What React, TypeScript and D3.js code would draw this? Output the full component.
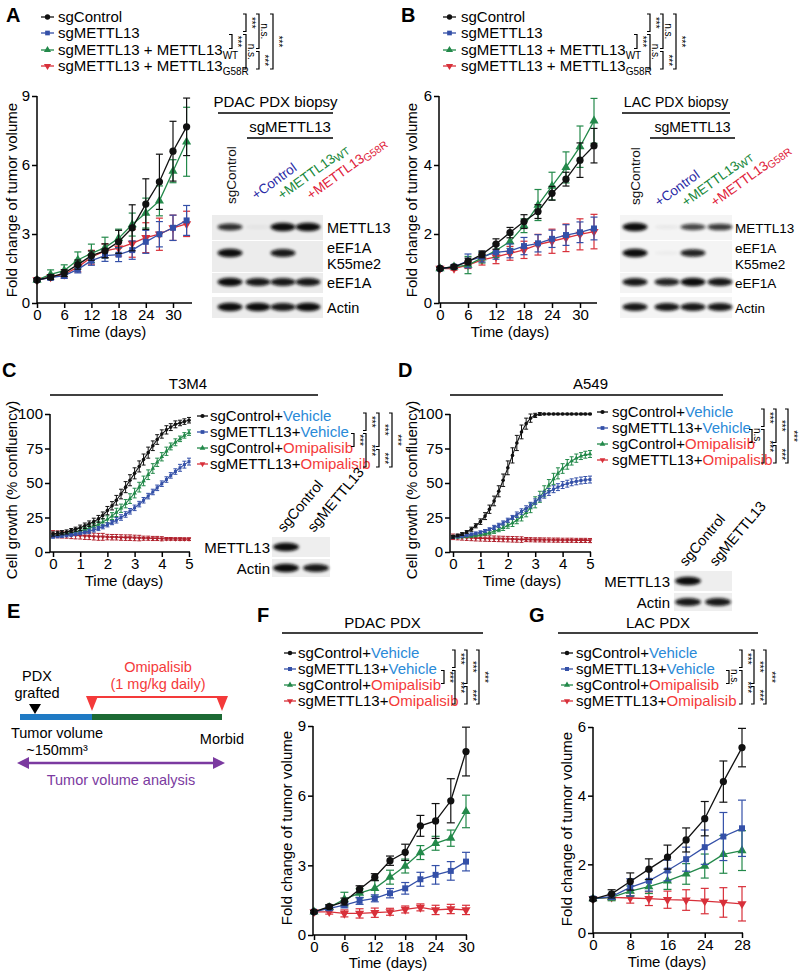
import React, { useEffect, useRef } from 'react';
import * as d3 from 'd3';

const FONT = '"Liberation Sans", Arial, Helvetica, sans-serif';
const C_CTRL = '#111111';
const C_KO = '#3450a8';
const C_WT = '#23894a';
const C_MUT = '#d8303a';
const C_VEH = '#2a8ad8';
const C_OMI = '#f43a3a';

// ---- A / B : rescue experiment in PDX ----
const daysAB = [0, 3, 6, 9, 12, 15, 18, 21, 24, 27, 30, 33];
const aCtrl = [1.0, 1.13, 1.3, 1.67, 2.06, 2.27, 2.66, 3.27, 4.3, 5.27, 6.6, 7.66];
const aCtrlErr = [0.05, 0.1, 0.15, 0.2, 0.2, 0.3, 0.5, 1.0, 1.1, 1.2, 1.3, 1.25];
const aKO = [1.0, 1.1, 1.19, 1.46, 1.84, 2.06, 2.1, 2.3, 2.66, 2.99, 3.27, 3.59];
const aKOErr = [0.05, 0.1, 0.12, 0.15, 0.2, 0.25, 0.3, 0.4, 0.5, 0.55, 0.55, 0.65];
const aWT = [1.0, 1.24, 1.41, 1.87, 2.16, 2.41, 2.81, 3.41, 3.91, 4.44, 5.73, 7.01];
const aWTErr = [0.05, 0.2, 0.25, 0.35, 0.4, 0.45, 0.4, 0.5, 0.65, 0.65, 0.5, 1.5];
const aMut = [1.0, 1.13, 1.24, 1.56, 1.99, 2.27, 2.39, 2.59, 2.84, 2.99, 3.27, 3.44];
const aMutErr = [0.05, 0.1, 0.15, 0.2, 0.3, 0.3, 0.35, 0.6, 0.65, 0.7, 0.55, 0.55];

const bCtrl = [1.0, 1.05, 1.2, 1.41, 1.71, 2.04, 2.36, 2.65, 3.18, 3.59, 4.14, 4.56];
const bCtrlErr = [0.03, 0.05, 0.1, 0.1, 0.15, 0.15, 0.2, 0.2, 0.2, 0.2, 0.5, 0.5];
const bKO = [1.0, 1.05, 1.22, 1.34, 1.47, 1.51, 1.65, 1.73, 1.86, 1.97, 2.05, 2.16];
const bKOErr = [0.03, 0.05, 0.2, 0.15, 0.2, 0.2, 0.25, 0.25, 0.25, 0.3, 0.3, 0.33];
const bWT = [1.0, 1.05, 1.1, 1.31, 1.52, 1.78, 2.24, 2.84, 3.39, 3.93, 4.53, 5.28];
const bWTErr = [0.03, 0.05, 0.25, 0.15, 0.2, 0.2, 0.2, 0.45, 0.4, 0.45, 0.6, 0.65];
const bMut = [1.0, 1.0, 1.1, 1.25, 1.34, 1.44, 1.54, 1.69, 1.79, 1.89, 1.99, 2.07];
const bMutErr = [0.03, 0.05, 0.1, 0.15, 0.2, 0.2, 0.25, 0.3, 0.35, 0.4, 0.45, 0.5];

// ---- C / D : cell growth (4 h readings) ----
const daysCD = [0, 0.17, 0.33, 0.5, 0.67, 0.83, 1, 1.17, 1.33, 1.5, 1.67, 1.83, 2, 2.17, 2.33, 2.5, 2.67, 2.83, 3, 3.17, 3.33, 3.5, 3.67, 3.83, 4, 4.17, 4.33, 4.5, 4.67, 4.83, 5];
const cCtrl = [13, 13.5, 14, 14.5, 15.5, 16.5, 17.5, 19, 20.5, 22, 24, 26.5, 30, 33.5, 37.5, 42, 47, 52, 57, 62, 67, 72, 77, 81.5, 85.5, 88.5, 90.5, 92.5, 93.5, 94.5, 95.5];
const cCtrlErr = [1.5, 1.5, 1.5, 1.5, 1.5, 1.5, 2, 2, 2, 2.5, 2.5, 2.5, 3, 3, 3.5, 3.5, 4, 4, 4, 4, 4, 4, 3.5, 3.5, 3, 3, 2.5, 2.5, 2, 2, 2];
const cKO = [11, 11.3, 11.6, 12, 12.4, 12.9, 13.5, 14.2, 15, 16, 17, 18.3, 19.7, 21.3, 23, 25, 27.2, 29.5, 32, 34.7, 37.5, 40.5, 43.5, 46.5, 49.5, 52.5, 55.5, 58.3, 61, 63.3, 65.5];
const cKOErr = [1, 1, 1, 1, 1, 1, 1, 1, 1.5, 1.5, 1.5, 1.5, 1.5, 1.5, 2, 2, 2, 2, 2, 2, 2, 2, 2, 2, 2, 2, 2, 2, 2.5, 2.5, 2.5];
const cWT = [12, 12.3, 12.7, 13.2, 13.8, 14.5, 15.3, 16.2, 17.3, 18.6, 20, 21.7, 23.7, 26, 28.7, 31.7, 35, 38.7, 42.7, 47, 51.5, 56, 60.5, 65, 69, 73, 76.5, 79.5, 82, 84.5, 86.5];
const cWTErr = [1, 1, 1, 1, 1.5, 1.5, 1.5, 1.5, 2, 2, 2, 2.5, 2.5, 2.5, 3, 3, 3, 3.5, 3.5, 3.5, 3.5, 3.5, 3.5, 3, 3, 3, 2.5, 2.5, 2, 2, 2];
const cOmi = [13, 12.8, 12.6, 12.5, 12.2, 12, 11.9, 11.6, 11.5, 11.2, 11, 11, 10.8, 10.7, 10.7, 10.5, 10.4, 10.4, 10.2, 10.1, 10, 10, 9.8, 9.8, 9.6, 9.5, 9.5, 9.4, 9.4, 9.3, 9.3];
const cOmiErr = [2.5, 2.5, 2.5, 2.5, 2.5, 2.5, 2.5, 2.5, 2.5, 2.5, 2.5, 2.5, 2, 2, 2, 2, 2, 2, 2, 2, 1.5, 1.5, 1.5, 1.5, 1.5, 1, 1, 1, 1, 1, 1];

const dCtrl = [11, 12, 13, 14.5, 16.5, 19, 22, 26, 31, 37, 44, 52, 61, 70, 79, 87, 93, 97, 99, 100, 100, 100, 100, 100, 100, 100, 100, 100, 100, 100, 100];
const dCtrlErr = [1, 1, 1, 1, 1.5, 1.5, 2, 2.5, 3, 3.5, 4, 4.5, 5, 5.5, 5.5, 5, 4, 3, 1.5, 1, 0.5, 0.5, 0.5, 0.5, 0.5, 0.5, 0.5, 0.5, 0.5, 0.5, 0.5];
const dKO = [11, 11.3, 11.7, 12.2, 12.8, 13.5, 14.3, 15.3, 16.5, 17.8, 19.3, 21, 23, 25, 27, 29.3, 31.5, 34, 36.5, 39, 41.5, 43.5, 45.5, 47, 48.5, 49.5, 50.5, 51.2, 51.8, 52.2, 52.5];
const dKOErr = [1, 1, 1, 1, 1, 1, 1, 1, 1, 1.5, 1.5, 1.5, 1.5, 1.5, 2, 2, 2, 2, 2, 2, 2.5, 2.5, 2.5, 2.5, 2.5, 2.5, 2.5, 2.5, 2.5, 2.5, 2.5];
const dWT = [11, 11, 11.2, 11.4, 11.7, 12, 12.5, 13.2, 14, 15, 16.2, 17.6, 19.2, 21, 23, 25.5, 28.5, 32, 36, 40, 44, 48.5, 53, 57, 60.5, 63.5, 66, 68, 69.5, 70.5, 71];
const dWTErr = [1, 1, 1, 1, 1, 1, 1, 1, 1.5, 1.5, 1.5, 2, 2, 2.5, 2.5, 3, 3, 3.5, 4, 4, 4, 4, 4, 4, 3.5, 3.5, 3, 3, 2.5, 2.5, 2.5];
const dOmi = [11, 10.8, 10.6, 10.4, 10.2, 10, 9.9, 9.8, 9.7, 9.6, 9.5, 9.4, 9.3, 9.2, 9.1, 9, 9, 8.9, 8.8, 8.8, 8.7, 8.7, 8.6, 8.6, 8.5, 8.5, 8.5, 8.4, 8.4, 8.4, 8.3];
const dOmiErr = [2, 2, 2, 2, 2, 2, 2, 2, 2, 2, 2, 2, 2, 2, 2, 2, 1.5, 1.5, 1.5, 1.5, 1.5, 1.5, 1.5, 1.5, 1.5, 1.5, 1.5, 1.5, 1.5, 1.5, 1.5];

// ---- F / G : omipalisib in PDX ----
const daysF = [0, 3, 6, 9, 12, 15, 18, 21, 24, 27, 30];
const fCtrl = [1.0, 1.22, 1.44, 1.97, 2.49, 3.2, 3.56, 4.7, 4.91, 5.78, 7.9];
const fCtrlErr = [0.05, 0.08, 0.15, 0.15, 0.15, 0.2, 0.35, 0.45, 0.75, 0.95, 1.05];
const fKO = [1.0, 1.15, 1.29, 1.47, 1.58, 1.8, 2.01, 2.4, 2.59, 2.76, 3.16];
const fKOErr = [0.05, 0.08, 0.12, 0.15, 0.15, 0.2, 0.25, 0.3, 0.4, 0.4, 0.4];
const fWT = [1.0, 1.19, 1.54, 1.8, 2.01, 2.49, 2.97, 3.55, 3.95, 4.17, 5.32];
const fWTErr = [0.05, 0.1, 0.3, 0.2, 0.35, 0.3, 0.3, 0.3, 0.3, 0.35, 0.7];
const fOmi = [1.0, 1.0, 0.93, 0.93, 0.96, 1.0, 1.1, 1.19, 1.08, 1.12, 1.08];
const fOmiErr = [0.05, 0.1, 0.15, 0.2, 0.2, 0.15, 0.15, 0.15, 0.2, 0.2, 0.2];

const daysG = ['0', '4', '8', '12', '16', '20', '24', '26', '28'];
const gTicks = ['0', '8', '16', '24', '28'];
const gCtrl = [0.99, 1.14, 1.5, 1.86, 2.21, 2.71, 3.33, 4.41, 5.4];
const gCtrlErr = [0.05, 0.12, 0.25, 0.3, 0.35, 0.35, 0.5, 0.6, 0.56];
const gKO = [1.0, 1.06, 1.33, 1.52, 1.82, 2.15, 2.5, 2.81, 3.05];
const gKOErr = [0.05, 0.08, 0.25, 0.3, 0.3, 0.35, 0.5, 0.7, 0.82];
const gWT = [1.0, 1.04, 1.22, 1.35, 1.52, 1.72, 1.95, 2.29, 2.4];
const gWTErr = [0.05, 0.1, 0.15, 0.2, 0.25, 0.3, 0.35, 0.55, 0.58];
const gOmi = [1.0, 1.04, 1.02, 1.0, 0.97, 0.96, 0.93, 0.89, 0.85];
const gOmiErr = [0.05, 0.08, 0.15, 0.2, 0.25, 0.3, 0.37, 0.43, 0.5];

// legends, brackets, blots
const legendAB = [
  [{ t: 'sgControl' }],
  [{ t: 'sgMETTL13' }],
  [{ t: 'sgMETTL13 + METTL13' }, { t: 'WT', sub: true }],
  [{ t: 'sgMETTL13 + METTL13' }, { t: 'G58R', sub: true }],
];
const legendDrug = [
  [{ t: 'sgControl+' }, { t: 'Vehicle', c: C_VEH }],
  [{ t: 'sgMETTL13+' }, { t: 'Vehicle', c: C_VEH }],
  [{ t: 'sgControl+' }, { t: 'Omipalisib', c: C_OMI }],
  [{ t: 'sgMETTL13+' }, { t: 'Omipalisib', c: C_OMI }],
];
const styles = [
  { color: C_CTRL, shape: 'circle' },
  { color: C_KO, shape: 'square' },
  { color: C_WT, shape: 'up' },
  { color: C_MUT, shape: 'down' },
];
const bracketsAB = [[0, 1, 2, '***'], [1, 0, 1, '***'], [1, 1, 3, 'n.s.'], [2, 0, 2, 'n.s.'], [2, 2, 3, '***'], [3, 0, 3, '***']];
const bracketsAll = [[0, 1, 2, '***'], [1, 0, 1, '***'], [1, 1, 3, '***'], [2, 0, 2, '***'], [2, 2, 3, '***'], [3, 0, 3, '***']];
const bracketsNs = [[0, 1, 2, 'n.s.'], [1, 0, 1, '***'], [1, 1, 3, '***'], [2, 0, 2, '***'], [2, 2, 3, '***'], [3, 0, 3, '***']];

const blotA = [[0.85, 0.04, 1, 1], [1, 0, 0.95, 0], [1, 0.95, 0.95, 0.95], [1, 1, 0.95, 1]];
const blotB = [[1, 0.05, 0.75, 0.8], [1, 0.03, 0.9, 0], [0.95, 0.9, 1, 0.95], [0.95, 0.95, 0.95, 0.95]];
const blotC = [[1, 0], [1, 0.95]];
const blotD = [[1, 0], [0.95, 0.95]];
const laneLabelsAB = [
  { parts: [{ t: 'sgControl' }], c: '#111' },
  { parts: [{ t: '+Control' }], c: '#2b2ba6' },
  { parts: [{ t: '+METTL13' }, { t: 'WT', sub: true }], c: '#17883a' },
  { parts: [{ t: '+METTL13' }, { t: 'G58R', sub: true }], c: '#e0223a' },
];

const SYM: any = { circle: d3.symbolCircle, square: d3.symbolSquare, up: d3.symbolTriangle, down: d3.symbolTriangle };

function txt(g: any, x: number, y: number, s: string, size = 15, anchor = 'start', color = '#000') {
  return g.append('text').attr('x', x).attr('y', y).attr('font-size', size).attr('text-anchor', anchor)
    .attr('fill', color).attr('font-family', FONT).text(s);
}

function parts(t: any, ps: any[], subSize: number, subDy: number) {
  ps.forEach((p) => {
    const s = t.append('tspan').text(p.t);
    if (p.c) s.attr('fill', p.c);
    if (p.sub) s.attr('font-size', subSize).attr('dy', subDy);
  });
}

function drawChart(svg: any, o: any) {
  const g = svg.append('g');
  const x = o.x, y = o.y;
  [...o.series].reverse().forEach((s: any) => {
    const pts = o.days.map((d: any, i: number) => ({ px: x(d), v: s.vals[i], e: s.errs[i] }));
    const eb = g.append('g').attr('stroke', s.color).attr('stroke-width', o.ebw);
    pts.forEach((p: any) => {
      eb.append('line').attr('x1', p.px).attr('x2', p.px).attr('y1', y(p.v + p.e)).attr('y2', y(p.v - p.e));
      [p.v + p.e, p.v - p.e].forEach((v) =>
        eb.append('line').attr('x1', p.px - o.cap).attr('x2', p.px + o.cap).attr('y1', y(v)).attr('y2', y(v)));
    });
    g.append('path').datum(pts)
      .attr('d', d3.line<any>().x((p) => p.px).y((p) => y(p.v)))
      .attr('fill', 'none').attr('stroke', s.color).attr('stroke-width', o.lw);
    g.append('g').selectAll('path').data(pts).join('path')
      .attr('d', d3.symbol(SYM[s.shape], s.shape === 'circle' ? o.ms * 1.15 : o.ms)())
      .attr('transform', (p: any) => `translate(${p.px},${y(p.v)})${s.shape === 'down' ? ' rotate(180)' : ''}`)
      .attr('fill', s.color);
  });

  const y0 = y(o.yDomain[0]);
  const ya = g.append('g').attr('transform', `translate(${o.axisX},0)`)
    .call(d3.axisLeft(y).tickValues(o.yTicks).tickFormat((d: any) => String(d)).tickSize(5).tickPadding(2));
  const xa = g.append('g').attr('transform', `translate(0,${y0})`)
    .call(d3.axisBottom(x).tickValues(o.xTicks).tickFormat((d: any) => String(d)).tickSize(5).tickPadding(1));
  [ya, xa].forEach((a: any) => {
    a.select('.domain').remove();
    a.selectAll('line').attr('stroke-width', 1.5);
    a.selectAll('text').attr('font-size', o.fs).attr('font-family', FONT).attr('fill', '#000');
  });
  g.append('line').attr('x1', o.axisX).attr('x2', o.axisX).attr('y1', y0).attr('y2', y(o.yDomain[1]))
    .attr('stroke', '#000').attr('stroke-width', 1.5);
  g.append('line').attr('x1', o.axisX).attr('x2', o.xEnd).attr('y1', y0).attr('y2', y0)
    .attr('stroke', '#000').attr('stroke-width', 1.5);

  txt(g, o.xLabel[0], o.xLabel[1], 'Time (days)', 15, 'middle');
  txt(g, 0, 0, o.yText, 15, 'middle')
    .attr('transform', `translate(${o.yLabel[0]},${o.yLabel[1]}) rotate(-90)`);
}

function drawLegend(svg: any, o: any) {
  const g = svg.append('g');
  o.labels.forEach((lab: any, i: number) => {
    const yy = o.rows[i];
    const st = styles[i];
    g.append('line').attr('x1', o.lx[0]).attr('x2', o.lx[1]).attr('y1', yy).attr('y2', yy)
      .attr('stroke', st.color).attr('stroke-width', 1.3);
    g.append('path').attr('d', d3.symbol(SYM[st.shape], o.ms)())
      .attr('transform', `translate(${(o.lx[0] + o.lx[1]) / 2},${yy})${st.shape === 'down' ? ' rotate(180)' : ''}`)
      .attr('fill', st.color);
    const t = txt(g, o.tx, yy + 5, '', o.fs);
    parts(t, lab, 10, 4);
  });
}

function drawBrackets(svg: any, cols: number[], rows: number[], items: any[]) {
  const g = svg.append('g');
  items.forEach(([c, r1, r2, lab]: any) => {
    const x = cols[c];
    const top = rows[r1] + (r1 === 0 ? -3 : 1.5);
    const bot = rows[r2] + (r2 === 3 ? 3 : -1.5);
    g.append('path').attr('d', `M${x - 3},${top}H${x}V${bot}H${x - 3}`)
      .attr('fill', 'none').attr('stroke', '#000').attr('stroke-width', 1.2);
    txt(g, 0, 0, lab, 10, 'middle').attr('transform', `translate(${x + 2},${(top + bot) / 2}) rotate(90)`);
  });
}

function drawBlot(svg: any, o: any) {
  const g = svg.append('g');
  o.rows.forEach((r: any, ri: number) => {
    g.append('rect').attr('x', o.box[0]).attr('width', o.box[1] - o.box[0]).attr('y', r.y0).attr('height', r.y1 - r.y0)
      .attr('fill', o.bg);
    o.vals[ri].forEach((v: number, li: number) => {
      if (v <= 0) return;
      g.append('ellipse').attr('cx', o.lanes[li]).attr('cy', r.band).attr('rx', o.bw).attr('ry', 4.2 * Math.max(v, 0.5))
        .attr('fill', '#0a0a0a').attr('opacity', v).attr('filter', 'url(#blur)');
    });
    r.labels.forEach((l: any) => txt(g, o.labelX, l[1], l[0], o.fs || 15, o.labelAnchor || 'start'));
  });
}

export default function App() {
  const ref = useRef<SVGSVGElement>(null);

  useEffect(() => {
    const svg = d3.select(ref.current);
    svg.selectAll('*').remove();
    svg.append('defs').append('filter').attr('id', 'blur').attr('x', '-30%').attr('y', '-60%')
      .attr('width', '160%').attr('height', '220%')
      .append('feGaussianBlur').attr('stdDeviation', 1.4);

    const four = (c: number[], ce: number[], k: number[], ke: number[], w: number[], we: number[], m: number[], me: number[], mc = C_MUT) => [
      { vals: c, errs: ce, ...styles[0] }, { vals: k, errs: ke, ...styles[1] },
      { vals: w, errs: we, ...styles[2] }, { vals: m, errs: me, color: mc, shape: 'down' },
    ];

    // panel letters
    [['A', 6, 22], ['B', 401, 22], ['C', 2, 377], ['D', 398, 377], ['E', 7, 618], ['F', 257, 622], ['G', 529, 622]]
      .forEach(([l, x, y]: any) => txt(svg, x, y, l, 20).attr('font-weight', 'bold'));

    // ---------- A ----------
    drawLegend(svg, { labels: legendAB, rows: [17, 33, 50, 66], lx: [41, 54], tx: 58, fs: 15, ms: 22 });
    drawBrackets(svg, [232, 246, 259, 273], [17, 33, 50, 66], bracketsAB);
    drawChart(svg, {
      x: d3.scaleLinear().domain([0, 30]).range([37, 173]), y: d3.scaleLinear().domain([0, 9]).range([303, 96]),
      yDomain: [0, 9], yTicks: [0, 3, 6, 9], xTicks: [0, 6, 12, 18, 24, 30], axisX: 37, xEnd: 192,
      days: daysAB, series: four(aCtrl, aCtrlErr, aKO, aKOErr, aWT, aWTErr, aMut, aMutErr),
      ms: 36, lw: 1.3, ebw: 1.2, cap: 3.5, fs: 15, xLabel: [107, 337], yLabel: [17, 200], yText: 'Fold change of tumor volume',
    });
    // ---------- B ----------
    drawLegend(svg, { labels: legendAB, rows: [17, 33, 50, 66], lx: [443, 456], tx: 461, fs: 15, ms: 22 });
    drawBrackets(svg, [637, 650, 663, 676], [17, 33, 50, 66], bracketsAB);
    drawChart(svg, {
      x: d3.scaleLinear().domain([0, 30]).range([440, 580]), y: d3.scaleLinear().domain([0, 6]).range([303, 96]),
      yDomain: [0, 6], yTicks: [0, 2, 4, 6], xTicks: [0, 6, 12, 18, 24, 30], axisX: 439, xEnd: 597,
      days: daysAB, series: four(bCtrl, bCtrlErr, bKO, bKOErr, bWT, bWTErr, bMut, bMutErr),
      ms: 36, lw: 1.3, ebw: 1.2, cap: 3.5, fs: 15, xLabel: [510, 337], yLabel: [417, 200], yText: 'Fold change of tumor volume',
    });

    // blots A / B
    const blotTitle = (x1: number, x2: number, x3: number, x4: number, title: string, fs: number) => {
      txt(svg, (x1 + x2) / 2, 107, title, fs, 'middle');
      svg.append('line').attr('x1', x1).attr('x2', x2).attr('y1', 113).attr('y2', 113).attr('stroke', '#000').attr('stroke-width', 1.5);
      txt(svg, (x3 + x4) / 2, 132, 'sgMETTL13', fs, 'middle');
      svg.append('line').attr('x1', x3).attr('x2', x4).attr('y1', 138).attr('y2', 138).attr('stroke', '#000').attr('stroke-width', 1.5);
    };
    const laneLabels = (pos: number[][]) => {
      laneLabelsAB.forEach((l, i) => {
        const t = txt(svg, 0, 0, '', 13.5, 'start', l.c)
          .attr('transform', `translate(${pos[i][0]},${pos[i][1]}) rotate(${i === 0 ? -90 : -36})`);
        parts(t, l.parts, 10.5, 2);
      });
    };
    const rowsAB = [
      { y0: 215, y1: 240, band: 227, labels: [['METTL13', 233]] },
      { y0: 241, y1: 272, band: 253, labels: [['eEF1A', 253], ['K55me2', 269]] },
      { y0: 273, y1: 293, band: 282, labels: [['eEF1A', 288]] },
      { y0: 297, y1: 318, band: 307, labels: [['Actin', 313]] },
    ];
    blotTitle(218, 333, 247, 333, 'PDAC PDX biopsy', 15);
    laneLabels([[236, 204], [256, 200], [282, 200], [311, 200]]);
    drawBlot(svg, { rows: rowsAB, vals: blotA, lanes: [230, 258, 283, 308], box: [212, 323], bg: '#ececec', bw: 12.5, labelX: 327, fs: 14.5 });
    blotTitle(622, 730, 650, 735, 'LAC PDX biopsy', 14);
    laneLabels([[640, 205], [659, 207], [686, 207], [715, 207]]);
    drawBlot(svg, { rows: rowsAB, vals: blotB, lanes: [635, 667, 693, 720], box: [620, 732], bg: '#f4f4f4', bw: 12.5, labelX: 735, fs: 13.5 });

    // ---------- C / D ----------
    [['T3M4', 50, 318], ['A549', 450, 723]].forEach(([t, x1, x2]: any) => {
      txt(svg, (x1 + x2) / 2 + 4, 389, t, 15, 'middle');
      svg.append('line').attr('x1', x1).attr('x2', x2).attr('y1', 395).attr('y2', 395).attr('stroke', '#000').attr('stroke-width', 1.5);
    });
    const rowsC = [416, 432, 448, 464];
    const rowsD = [412, 428, 444, 460];
    drawLegend(svg, { labels: legendDrug, rows: rowsC, lx: [197, 208], tx: 210, fs: 15, ms: 14 });
    drawBrackets(svg, [354, 366, 379, 392], rowsC, bracketsAll);
    drawChart(svg, {
      x: d3.scaleLinear().domain([0, 5]).range([53, 189]), y: d3.scaleLinear().domain([0, 100]).range([552, 414]),
      yDomain: [0, 100], yTicks: [0, 25, 50, 75, 100], xTicks: [0, 1, 2, 3, 4, 5], axisX: 50, xEnd: 190,
      days: daysCD, series: four(cCtrl, cCtrlErr, cKO, cKOErr, cWT, cWTErr, cOmi, cOmiErr, '#b0202c'),
      ms: 9, lw: 1.1, ebw: 1, cap: 2, fs: 15, xLabel: [124, 586], yLabel: [17, 490], yText: 'Cell growth (% confluency)',
    });
    drawLegend(svg, { labels: legendDrug, rows: rowsD, lx: [597, 608], tx: 612, fs: 15, ms: 14 });
    drawBrackets(svg, [752, 764, 776, 788], rowsD, bracketsNs);
    drawChart(svg, {
      x: d3.scaleLinear().domain([0, 5]).range([453, 590]), y: d3.scaleLinear().domain([0, 100]).range([552, 414]),
      yDomain: [0, 100], yTicks: [0, 25, 50, 75, 100], xTicks: [0, 1, 2, 3, 4, 5], axisX: 450, xEnd: 591,
      days: daysCD, series: four(dCtrl, dCtrlErr, dKO, dKOErr, dWT, dWTErr, dOmi, dOmiErr, '#b0202c'),
      ms: 9, lw: 1.1, ebw: 1, cap: 2, fs: 15, xLabel: [522, 586], yLabel: [417, 490], yText: 'Cell growth (% confluency)',
    });
    // small blots C / D
    const rowsCD = (y: number) => [
      { y0: y - 10, y1: y + 10, band: y, labels: [['METTL13', y + 6]] },
      { y0: y + 12, y1: y + 30, band: y + 21, labels: [['Actin', y + 27]] },
    ];
    [[286, 316, 547, 270, blotC], [688, 718, 581, 670, blotD]].forEach(([l1, l2, yy, lx, vals]: any) => {
      drawBlot(svg, { rows: rowsCD(yy), vals, lanes: [l1, l2], box: [l1 - 14, l2 + 14], bg: '#eeeeee', bw: 13, labelX: lx, labelAnchor: 'end' });
      ['sgControl', 'sgMETTL13'].forEach((s, i) =>
        txt(svg, 0, 0, s, 14.5).attr('transform', `translate(${(i ? l2 : l1) - 2},${yy - 14}) rotate(-50)`));
    });

    // ---------- E ----------
    const e = svg.append('g');
    txt(e, 37, 681, 'PDX', 14.5, 'middle');
    txt(e, 37, 698, 'grafted', 14.5, 'middle');
    e.append('path').attr('d', 'M29,704L41,704L35,714Z').attr('fill', '#000');
    e.append('rect').attr('x', 20).attr('y', 714).attr('width', 72).attr('height', 6).attr('fill', '#1f7ac4');
    e.append('rect').attr('x', 92).attr('y', 714).attr('width', 130).attr('height', 6).attr('fill', '#1d6a34');
    e.append('line').attr('x1', 92).attr('x2', 222).attr('y1', 697).attr('y2', 697).attr('stroke', C_OMI).attr('stroke-width', 2);
    [92, 222].forEach((x) => e.append('path').attr('d', `M${x - 6},696L${x + 6},696L${x},711Z`).attr('fill', C_OMI));
    txt(e, 158, 672, 'Omipalisib', 14.5, 'middle', C_OMI);
    txt(e, 158, 689, '(1 mg/kg daily)', 14.5, 'middle', C_OMI);
    txt(e, 57, 738, 'Tumor volume', 14.5, 'middle');
    txt(e, 57, 755, '~150mm³', 14.5, 'middle');
    txt(e, 222, 744, 'Morbid', 14.5, 'middle');
    const pc = '#7b3aa0';
    e.append('line').attr('x1', 26).attr('x2', 216).attr('y1', 763).attr('y2', 763).attr('stroke', pc).attr('stroke-width', 2.5);
    e.append('path').attr('d', 'M17,763L29,757L29,769Z').attr('fill', pc);
    e.append('path').attr('d', 'M225,763L213,757L213,769Z').attr('fill', pc);
    txt(e, 121, 785, 'Tumor volume analysis', 14.5, 'middle', pc);

    // ---------- F ----------
    [['PDAC PDX', 282, 483], ['LAC PDX', 558, 758]].forEach(([t, x1, x2]: any) => {
      txt(svg, (x1 + x2) / 2, 628, t, 15, 'middle');
      svg.append('line').attr('x1', x1).attr('x2', x2).attr('y1', 633).attr('y2', 633).attr('stroke', '#000').attr('stroke-width', 1.5);
    });
    drawLegend(svg, { labels: legendDrug, rows: [653, 669, 685, 701], lx: [284, 296], tx: 298, fs: 15, ms: 16 });
    drawBrackets(svg, [444, 455, 467, 479], [653, 669, 685, 701], bracketsAll);
    drawChart(svg, {
      x: d3.scaleLinear().domain([0, 30]).range([314, 466]), y: d3.scaleLinear().domain([0, 9]).range([935, 726]),
      yDomain: [0, 9], yTicks: [0, 3, 6, 9], xTicks: [0, 6, 12, 18, 24, 30], axisX: 313, xEnd: 467,
      days: daysF, series: four(fCtrl, fCtrlErr, fKO, fKOErr, fWT, fWTErr, fOmi, fOmiErr),
      ms: 36, lw: 1.3, ebw: 1.2, cap: 4, fs: 15, xLabel: [388, 968], yLabel: [292, 828], yText: 'Fold change of tumor volume',
    });
    // ---------- G ----------
    drawLegend(svg, { labels: legendDrug, rows: [653, 669, 685, 701], lx: [561, 573], tx: 576, fs: 15, ms: 16 });
    drawBrackets(svg, [729, 742, 754, 766], [653, 669, 685, 701], bracketsNs);
    drawChart(svg, {
      x: d3.scalePoint().domain(daysG).range([593, 742]), y: d3.scaleLinear().domain([0, 6]).range([933, 727]),
      yDomain: [0, 6], yTicks: [0, 2, 4, 6], xTicks: gTicks, axisX: 593, xEnd: 743,
      days: daysG, series: four(gCtrl, gCtrlErr, gKO, gKOErr, gWT, gWTErr, gOmi, gOmiErr),
      ms: 36, lw: 1.3, ebw: 1.2, cap: 4, fs: 15, xLabel: [667, 967], yLabel: [572, 829], yText: 'Fold change of tumor volume',
    });
  }, []);

  return (
    <svg ref={ref} width={800} height={976} style={{ position: 'absolute', left: 0, top: 0, background: '#fff' }} />
  );
}
